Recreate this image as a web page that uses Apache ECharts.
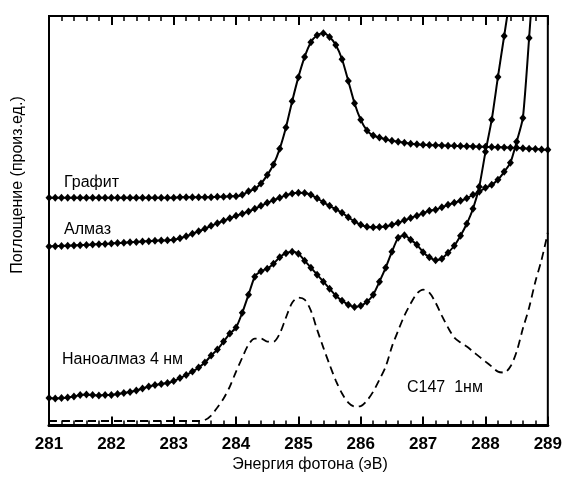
<!DOCTYPE html>
<html>
<head>
<meta charset="utf-8">
<script src="https://cdn.jsdelivr.net/npm/echarts@6/dist/echarts.min.js"></script>
<style>html,body{margin:0;padding:0;background:#fff}#c{width:565px;height:477px}</style>
</head>
<body>
<div id="c"></div>
<script>
// Photon energy sampling (eV), step 0.1 from 281.0
var startEnergy = 281.0;
var energyStep = 0.1;
var xTicks = [281, 282, 283, 284, 285, 286, 287, 288, 289];

// Absorption (arb. units)
var graphite = [228,228,228,228,228,228,228,228,228,228,
  228,228,228,228,228,228,228,228,228,228,
  228,228.5,228.5,228.5,228.5,228.5,228.5,229,229,229.5,
  229.5,231,234.5,237,242.3,250.7,261.3,277,298.3,324.7,
  348.8,369,383.7,390.7,392.7,389,381,366.7,345,322.7,
  306,295.3,290.3,288.3,286.5,285,284,283,282,281.5,
  281,280.8,280.6,280.4,280.2,280,279.8,279.6,279.4,279.2,
  279,278.8,278.6,278.4,278.2,278,277.6,277.2,276.8,276.4,276];

var diamond = [179.3,179.5,179.7,180,180.2,180.5,180.8,181.2,181.5,181.8,
  182.2,182.6,183,183.4,183.8,184.2,184.6,185,185.2,185.5,
  186,187.5,189.5,192,194.5,197,200,202.5,205,207.5,
  210,212,214.3,217,220,223,225.5,228,230.5,232.3,
  233,232.7,231,227.5,223.5,220,216.5,213,208.5,204.3,
  201,199,198.5,198.7,199.3,201,203,205.5,207.7,210,
  212.5,215,216,218.5,221,223,225,227.5,231,234,
  238,241,246,254,263,284,308,388,476];

var nanodiamond4 = [27.5,27,27.5,28,29,30.5,31,30.5,30,30.5,
  30.5,31.5,32.5,33.5,35,37,39,40.5,41.5,42.5,
  44.5,47.5,50.5,54,58,63,70,76,84,92,
  98,113,131,149,154.5,157,162,168.5,172.5,174,
  172,165,158,151,144,137,130,125,121,118.7,
  120,124,131,144,158,174,188,190.5,186,181,
  173.5,168.5,165.5,167,173,180,190,202,217,239,
  274,306,349,390,431];

var c147 = [4.5,4.5,4.5,4.5,4.5,4.5,4.5,4.5,4.5,4.5,
  4.5,4.5,4.5,4.5,4.5,4.5,4.5,4.5,4.5,4.5,
  4.5,4.5,4.5,4.5,4.5,5.5,10,18,27,39,
  54,68,81,87,87,84,84,92,108,123,
  128,126,115,96,78,61,45,32,23,19,
  19.5,25,34,46,59,79,95,110,122,132,
  136,133,123,110,98,88,83,79,74,69,
  64,59,54,53,59,74,97,118,144,166,193];

var labels = ['Графит', 'Алмаз', 'Наноалмаз 4 нм', 'C147  1нм'];
var xName = 'Энергия фотона (эВ)';
var yName = 'Поглощение (произ.ед.)';

function pairs(vals) {
  var out = [];
  for (var i = 0; i < vals.length; i++) {
    out.push([+(startEnergy + i * energyStep).toFixed(1), vals[i]]);
  }
  return out;
}

var chart = echarts.init(document.getElementById('c'), null, {renderer: 'canvas'});
var font = 'Liberation Sans, Arial, sans-serif';

function markerSeries(vals) {
  return {
    type: 'line', data: pairs(vals),
    symbol: 'diamond', symbolSize: [7, 8], showSymbol: true,
    itemStyle: {color: '#000'},
    lineStyle: {color: '#000', width: 2},
    smooth: 0.2, clip: true, z: 3
  };
}

var option = {
  animation: false,
  backgroundColor: '#fff',
  grid: {left: 49, right: 14, top: 16, bottom: 51.5, show: true, borderColor: '#000', borderWidth: 2, backgroundColor: 'transparent'},
  xAxis: [{
    type: 'value', min: xTicks[0], max: xTicks[xTicks.length - 1], interval: 1, position: 'bottom',
    axisLine: {show: true, lineStyle: {color: '#000', width: 3}},
    axisTick: {show: true, inside: true, length: 9, lineStyle: {color: '#000', width: 2}},
    minorTick: {show: true, splitNumber: 5, length: 5, lineStyle: {color: '#000', width: 1.5}},
    axisLabel: {color: '#000', fontFamily: font, fontWeight: 'bold', fontSize: 17, margin: 10},
    splitLine: {show: false}
  }, {
    type: 'value', min: xTicks[0], max: xTicks[xTicks.length - 1], interval: 1, position: 'top',
    axisLine: {show: true, lineStyle: {color: '#000', width: 2}},
    axisTick: {show: true, inside: true, length: 9, lineStyle: {color: '#000', width: 2}},
    minorTick: {show: true, splitNumber: 5, length: 5, lineStyle: {color: '#000', width: 1.5}},
    axisLabel: {show: false},
    splitLine: {show: false}
  }],
  yAxis: [{
    type: 'value', min: 0, max: 410,
    axisLine: {show: true, lineStyle: {color: '#000', width: 2}},
    axisTick: {show: false}, axisLabel: {show: false}, splitLine: {show: false}
  }],
  series: [
    markerSeries(graphite),
    markerSeries(diamond),
    markerSeries(nanodiamond4),
    {
      type: 'line', data: pairs(c147), symbol: 'none', smooth: 0.3, clip: true,
      lineStyle: {color: '#000', width: 1.8, type: [8, 5]}, z: 2
    }
  ],
  graphic: [
    {type: 'text', x: 64, y: 183, style: {text: labels[0], font: '16px ' + font, fill: '#000', textVerticalAlign: 'middle'}},
    {type: 'text', x: 64, y: 230, style: {text: labels[1], font: '16px ' + font, fill: '#000', textVerticalAlign: 'middle'}},
    {type: 'text', x: 62, y: 360, style: {text: labels[2], font: '16px ' + font, fill: '#000', textVerticalAlign: 'middle'}},
    {type: 'text', x: 407, y: 388, style: {text: labels[3], font: '16px ' + font, fill: '#000', textVerticalAlign: 'middle'}},
    {type: 'text', x: 310, y: 465, style: {text: xName, font: '16px ' + font, fill: '#000', textAlign: 'center', textVerticalAlign: 'middle'}},
    {type: 'text', x: 18, y: 185, rotation: Math.PI / 2, style: {text: yName, font: '16px ' + font, fill: '#000', textAlign: 'center', textVerticalAlign: 'middle'}}
  ]
};
chart.setOption(option);
</script>
</body>
</html>
